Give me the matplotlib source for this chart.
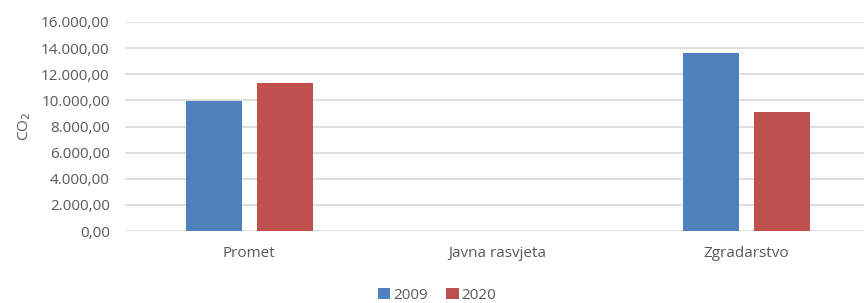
import numpy as np
import matplotlib
matplotlib.use("Agg")
import matplotlib.pyplot as plt
from matplotlib.ticker import FuncFormatter

# data
categories = ["Promet", "Javna rasvjeta", "Zgradarstvo"]
series_names = ["2009", "2020"]
values_2009 = [9950, 0, 13600]
values_2020 = [11350, 0, 9130]
colors = ["#4F81BD", "#C0504D"]

plt.rcParams['font.family'] = ['Open Sans', 'DejaVu Sans']
text_color = "#595959"
fs = 11

fig = plt.figure(figsize=(8.64, 3.03), dpi=100)
ax = fig.add_axes([0.1447, 0.2376, 0.8553, 0.6898])

x = np.arange(len(categories))
width = 0.224
offset = 0.143
ax.bar(x - offset, values_2009, width, color=colors[0], label=series_names[0], zorder=3)
ax.bar(x + offset, values_2020, width, color=colors[1], label=series_names[1], zorder=3)

ax.set_ylim(0, 16000)
ax.set_yticks(np.arange(0, 16001, 2000))
ax.set_xlim(-0.5, 2.474)
ax.set_xticks(x)
ax.set_xticklabels(categories)

def fmt(v, pos):
    s = f"{v:,.2f}"
    return s.replace(",", "X").replace(".", ",").replace("X", ".")
ax.yaxis.set_major_formatter(FuncFormatter(fmt))

ax.grid(axis="y", color="#D9D9D9", linewidth=1.2, zorder=0)
for sp in ax.spines.values():
    sp.set_visible(False)
ax.tick_params(axis="both", length=0, colors=text_color, labelsize=fs)
ax.tick_params(axis="y", pad=11)
ax.tick_params(axis="x", pad=11)

ax.set_ylabel("CO$_2$", color=text_color, fontsize=fs, labelpad=6)

fig.legend(loc="center", bbox_to_anchor=(0.506, 0.026), ncol=2, frameon=False,
           fontsize=fs, labelcolor=text_color, handlelength=0.8, handleheight=0.8,
           handletextpad=0.2, columnspacing=1.2, borderaxespad=0, borderpad=0)

fig.savefig("out.png", dpi=100)
